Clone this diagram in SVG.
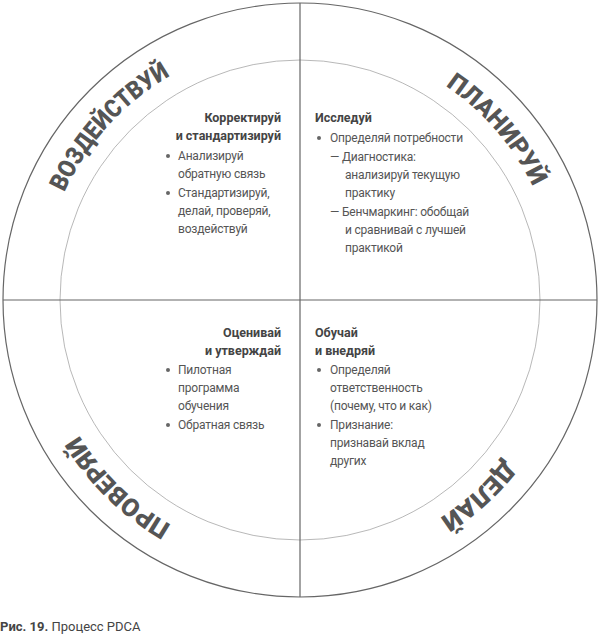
<svg xmlns="http://www.w3.org/2000/svg" xmlns:xlink="http://www.w3.org/1999/xlink" width="600" height="636" viewBox="0 0 600 636">
<style>
.t{font-family:Roboto,"Liberation Sans",sans-serif;font-size:12px;letter-spacing:-0.2px;fill:#555}
.h{font-family:Roboto,"Liberation Sans",sans-serif;font-size:12.5px;font-weight:bold;fill:#444}
.r{text-anchor:end}
.arc{font-family:Roboto,"Liberation Sans",sans-serif;font-size:25px;font-weight:900;fill:#555;text-anchor:middle}
.b{fill:#666}
</style>
<defs>
<path id="ring" d="M300,41 A259,259 0 1 1 300,559 A259,259 0 1 1 300,41"/>
</defs>
<g id="connectors" fill="none">
<circle cx="300" cy="300" r="297" stroke="#666" stroke-width="1.2"/>
<circle cx="300" cy="300" r="240" stroke="#999" stroke-width="0.7"/>
<line x1="300" y1="3" x2="300" y2="597" stroke="#666" stroke-width="1.2"/>
<line x1="3" y1="300" x2="597" y2="300" stroke="#666" stroke-width="1.2"/>
</g>
<g id="ring-labels">
<text class="arc"><textPath xlink:href="#ring" startOffset="1411" textLength="160" lengthAdjust="spacingAndGlyphs">ВОЗДЕЙСТВУЙ</textPath></text>
<text class="arc"><textPath xlink:href="#ring" startOffset="222" textLength="135" lengthAdjust="spacingAndGlyphs">ПЛАНИРУЙ</textPath></text>
<text class="arc"><textPath xlink:href="#ring" startOffset="622" textLength="88" lengthAdjust="spacingAndGlyphs">ДЕЛАЙ</textPath></text>
<text class="arc"><textPath xlink:href="#ring" startOffset="1013" textLength="130" lengthAdjust="spacingAndGlyphs">ПРОВЕРЯЙ</textPath></text>
</g>
<g id="act">
<text class="h r" x="281" y="122">Корректируй</text>
<text class="h r" x="281" y="140">и стандартизируй</text>
<circle class="b" cx="168" cy="156" r="2"/>
<text class="t" x="178" y="160">Анализируй</text>
<text class="t" x="178" y="178">обратную связь</text>
<circle class="b" cx="168" cy="193" r="2"/>
<text class="t" x="178" y="197">Стандартизируй,</text>
<text class="t" x="178" y="215">делай, проверяй,</text>
<text class="t" x="178" y="233">воздействуй</text>
</g>
<g id="plan">
<text class="h" x="315" y="122">Исследуй</text>
<circle class="b" cx="319" cy="138" r="2"/>
<text class="t" x="330" y="142">Определяй потребности</text>
<text class="t" x="330" y="161">— Диагностика:</text>
<text class="t" x="345" y="179">анализируй текущую</text>
<text class="t" x="345" y="197">практику</text>
<text class="t" x="330" y="216">— Бенчмаркинг: обобщай</text>
<text class="t" x="345" y="234">и сравнивай с лучшей</text>
<text class="t" x="345" y="252">практикой</text>
</g>
<g id="check">
<text class="h r" x="281" y="337">Оценивай</text>
<text class="h r" x="281" y="355">и утверждай</text>
<circle class="b" cx="168" cy="370" r="2"/>
<text class="t" x="178" y="374">Пилотная</text>
<text class="t" x="178" y="392">программа</text>
<text class="t" x="178" y="410">обучения</text>
<circle class="b" cx="168" cy="425" r="2"/>
<text class="t" x="178" y="429">Обратная связь</text>
</g>
<g id="do">
<text class="h" x="315" y="337">Обучай</text>
<text class="h" x="315" y="355">и внедряй</text>
<circle class="b" cx="319" cy="370" r="2"/>
<text class="t" x="330" y="374">Определяй</text>
<text class="t" x="330" y="392">ответственность</text>
<text class="t" x="330" y="410">(почему, что и как)</text>
<circle class="b" cx="319" cy="425" r="2"/>
<text class="t" x="330" y="429">Признание:</text>
<text class="t" x="330" y="447">признавай вклад</text>
<text class="t" x="330" y="465">других</text>
</g>
<g id="caption">
<text x="0" y="631" font-family="Roboto,'Liberation Sans',sans-serif" font-size="13" fill="#444"><tspan font-weight="bold">Рис. 19.</tspan> Процесс PDCA</text>
</g>
</svg>
